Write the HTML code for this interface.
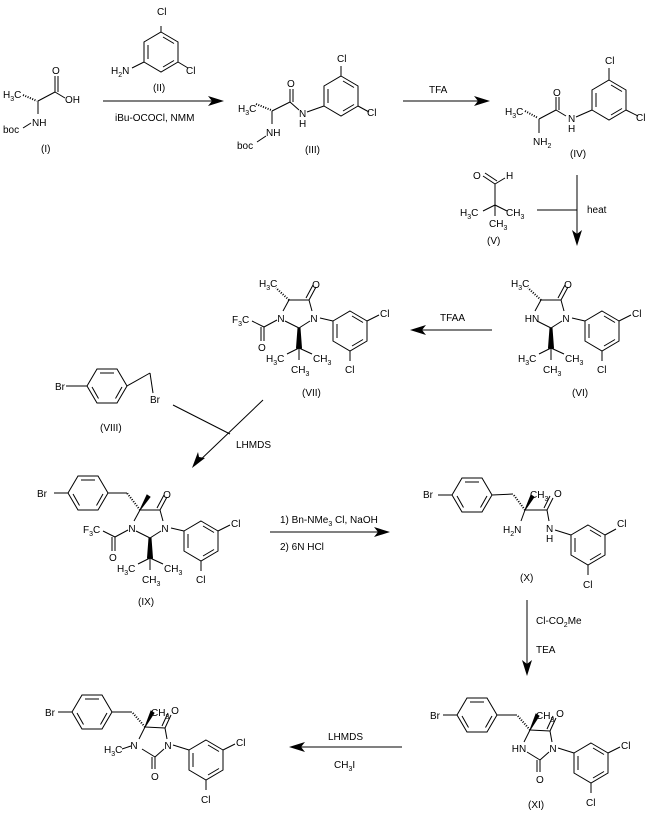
<!DOCTYPE html>
<html><head><meta charset="utf-8"><style>
html,body{margin:0;padding:0;background:#fff}
svg{display:block}
text{font-family:"Liberation Sans",Arial,sans-serif;font-size:10px;fill:#000}
</style></head><body>
<svg width="654" height="826" viewBox="0 0 654 826" xmlns="http://www.w3.org/2000/svg">
<defs>
<g id="hv" fill="none" stroke="#000" stroke-width="1">
<polygon points="0,-20 17,-10 17,10 0,20 -17,10 -17,-10"/>
<line x1="2" y1="-15" x2="13" y2="-8.5"/><line x1="13" y1="8.5" x2="2" y2="15"/><line x1="-13" y1="7" x2="-13" y2="-7"/>
</g>
<g id="hh" fill="none" stroke="#000" stroke-width="1">
<polygon points="-20,0 -10,-17 10,-17 20,0 10,17 -10,17"/>
<line x1="-7" y1="-13" x2="7" y2="-13"/><line x1="15" y1="1" x2="8.5" y2="12.5"/><line x1="-8.5" y1="12.5" x2="-15" y2="1"/>
</g>
<!-- imidazolidinone core in IX frame -->
<g id="core" stroke="#000" stroke-width="1" fill="none">
<line x1="140" y1="510" x2="160" y2="510"/>
<line x1="160" y1="510" x2="167" y2="497"/><line x1="157" y1="508" x2="164" y2="495"/>
<line x1="160" y1="510" x2="163" y2="521"/>
<line x1="161" y1="531" x2="150" y2="538"/>
<line x1="150" y1="538" x2="136" y2="531"/>
<line x1="134" y1="521" x2="140" y2="510"/>
<line x1="171" y1="528" x2="184" y2="531"/>
<polygon points="149,538 151,538 152.5,558 147.5,558" fill="#000"/>
<line x1="150" y1="558" x2="138" y2="564"/><line x1="150" y1="558" x2="163" y2="564"/><line x1="150" y1="558" x2="150" y2="570"/>
<use href="#hv" x="201" y="541"/>
<line x1="218" y1="531" x2="230" y2="525"/>
<line x1="201" y1="561" x2="201" y2="571"/>
</g>
<g id="coret">
<text x="165" y="532" text-anchor="middle">N</text>
<text x="167" y="498" text-anchor="middle">O</text>
<text x="117" y="572">H<tspan font-size="7" dy="3">3</tspan><tspan dy="-3">C</tspan></text>
<text x="164" y="572">CH<tspan font-size="7" dy="3">3</tspan></text>
<text x="142" y="583">CH<tspan font-size="7" dy="3">3</tspan></text>
<text x="231" y="527">Cl</text>
<text x="196" y="583">Cl</text>
</g>
<g id="acyl" stroke="#000" stroke-width="1" fill="none">
<line x1="128" y1="530" x2="115" y2="537"/>
<line x1="115" y1="537" x2="103" y2="531"/>
<line x1="115" y1="537" x2="115" y2="551"/><line x1="112" y1="537" x2="112" y2="551"/>
</g>
<g id="acylt">
<text x="132" y="532" text-anchor="middle">N</text>
<text x="83" y="533">F<tspan font-size="7" dy="3">3</tspan><tspan dy="-3">C</tspan></text>
<text x="109" y="561">O</text>
</g>
<!-- hydantoin in final frame -->
<g id="hyd" stroke="#000" stroke-width="1" fill="none">
<line x1="145" y1="727" x2="165" y2="728"/>
<line x1="165" y1="728" x2="171" y2="715"/><line x1="162" y1="726" x2="168" y2="713"/>
<line x1="165" y1="728" x2="167" y2="739"/>
<line x1="164" y1="749" x2="155" y2="757"/>
<line x1="155" y1="757" x2="142" y2="749"/>
<line x1="139" y1="739" x2="145" y2="727"/>
<line x1="155" y1="757" x2="155" y2="769"/><line x1="152" y1="757" x2="152" y2="769"/>
<line x1="173" y1="745" x2="189" y2="750"/>
<polygon points="145,727 151,711 154,713" fill="#000"/>
<line x1="145" y1="727" x2="132" y2="712" stroke-dasharray="1,1.5" stroke-width="2"/>
<line x1="132" y1="712" x2="112" y2="712"/>
<use href="#hh" x="92" y="712"/>
<line x1="58" y1="712" x2="72" y2="712"/>
<use href="#hv" x="206" y="760"/>
<line x1="223" y1="750" x2="235" y2="744"/>
<line x1="206" y1="780" x2="206" y2="790"/>
</g>
<g id="hydt">
<text x="168" y="749" text-anchor="middle">N</text>
<text x="175" y="714" text-anchor="middle">O</text>
<text x="151" y="780">O</text>
<text x="151" y="716">CH<tspan font-size="7" dy="3">3</tspan></text>
<text x="45" y="716">Br</text>
<text x="236" y="746">Cl</text>
<text x="201" y="803">Cl</text>
</g>
</defs>

<g stroke="#000" stroke-width="1" fill="none">
<!-- (I) -->
<line x1="23" y1="95" x2="37" y2="101" stroke-dasharray="1,1.5" stroke-width="2"/>
<line x1="38" y1="101" x2="55" y2="92"/>
<line x1="55" y1="92" x2="55" y2="76"/><line x1="58" y1="92" x2="58" y2="76"/>
<line x1="55" y1="92" x2="65" y2="98"/>
<line x1="38" y1="101" x2="38" y2="114"/>
<line x1="23" y1="128" x2="31" y2="123"/>
<!-- (II) -->
<use href="#hv" x="161" y="52"/>
<line x1="161" y1="32" x2="161" y2="26"/>
<line x1="178" y1="62" x2="188" y2="68"/>
<line x1="144" y1="62" x2="132" y2="68"/>
<!-- arrow 1 -->
<line x1="103" y1="101" x2="222" y2="101"/>
<!-- (III) -->
<use href="#hv" x="341" y="96"/>
<line x1="341" y1="76" x2="341" y2="66"/>
<line x1="358" y1="106" x2="369" y2="112"/>
<line x1="256" y1="104" x2="271" y2="110" stroke-dasharray="1,1.5" stroke-width="2"/>
<line x1="272" y1="111" x2="290" y2="102"/>
<line x1="290" y1="102" x2="290" y2="89"/><line x1="293" y1="102" x2="293" y2="89"/>
<line x1="290" y1="102" x2="299" y2="110"/>
<line x1="307" y1="112" x2="324" y2="106"/>
<line x1="272" y1="111" x2="272" y2="124"/>
<line x1="257" y1="142" x2="266" y2="136"/>
<!-- TFA arrow -->
<line x1="403" y1="101" x2="488" y2="101"/>
<!-- (IV) -->
<use href="#hv" x="609" y="100"/>
<line x1="609" y1="80" x2="609" y2="68"/>
<line x1="626" y1="110" x2="638" y2="116"/>
<line x1="525" y1="111" x2="538" y2="118" stroke-dasharray="1,1.5" stroke-width="2"/>
<line x1="539" y1="119" x2="556" y2="110"/>
<line x1="556" y1="110" x2="556" y2="97"/><line x1="559" y1="110" x2="559" y2="97"/>
<line x1="556" y1="110" x2="566" y2="116"/>
<line x1="576" y1="117" x2="592" y2="110"/>
<line x1="539" y1="119" x2="539" y2="133"/>
<!-- (V) -->
<line x1="483" y1="176" x2="495" y2="184"/><line x1="485" y1="173" x2="497" y2="181"/>
<line x1="495" y1="184" x2="505" y2="178"/>
<line x1="495" y1="184" x2="495" y2="205"/>
<line x1="495" y1="205" x2="483" y2="211"/><line x1="495" y1="205" x2="507" y2="211"/><line x1="495" y1="205" x2="495" y2="216"/>
<!-- heat arrow -->
<line x1="577" y1="175" x2="577" y2="243"/>
<line x1="537" y1="210" x2="577" y2="210"/>
<!-- TFAA arrow -->
<line x1="492" y1="330" x2="413" y2="330"/>
<!-- (VIII) -->
<use href="#hh" x="107" y="386"/>
<line x1="66" y1="386" x2="87" y2="386"/>
<line x1="127" y1="386" x2="150" y2="373"/>
<line x1="150" y1="373" x2="153" y2="393"/>
<!-- LHMDS diag arrow -->
<line x1="263" y1="400" x2="195" y2="465"/>
<line x1="173" y1="405" x2="230" y2="434"/>
<!-- (IX) extras -->
<polygon points="140,510 147,495 150,497" fill="#000"/>
<line x1="140" y1="510" x2="127" y2="493" stroke-dasharray="1,1.5" stroke-width="2"/>
<line x1="127" y1="493" x2="108" y2="493"/>
<use href="#hh" x="88" y="493"/>
<line x1="54" y1="493" x2="68" y2="493"/>
<!-- IX to X arrow -->
<line x1="270" y1="532" x2="388" y2="532"/>
<!-- (X) -->
<use href="#hh" x="472" y="495"/>
<line x1="438" y1="495" x2="452" y2="495"/>
<line x1="492" y1="495" x2="513" y2="494"/>
<line x1="525" y1="510" x2="513" y2="494" stroke-dasharray="1,1.5" stroke-width="2"/>
<polygon points="525,510 531,495 534,497" fill="#000"/>
<line x1="525" y1="510" x2="547" y2="510"/>
<line x1="547" y1="510" x2="553" y2="498"/><line x1="544" y1="508" x2="550" y2="496"/>
<line x1="547" y1="510" x2="549" y2="521"/>
<line x1="525" y1="510" x2="521" y2="521"/>
<line x1="555" y1="530" x2="571" y2="535"/>
<use href="#hv" x="588" y="545"/>
<line x1="605" y1="535" x2="616" y2="529"/>
<line x1="588" y1="565" x2="588" y2="575"/>
<!-- X to XI arrow -->
<line x1="527" y1="600" x2="527" y2="673"/>
<!-- final arrow -->
<line x1="402" y1="747" x2="292" y2="747"/>
<!-- final N-CH3 -->
<line x1="122" y1="749" x2="131" y2="746"/>
</g>
<!-- arrowheads -->
<g fill="#000">
<polygon points="224,101 208,96 212,101 208,106"/>
<polygon points="490,101 474,96 478,101 474,106"/>
<polygon points="577,246 572,230 577,234 582,230"/>
<polygon points="410,330 426,325 422,330 426,335"/>
<polygon points="192,468 198,452 199,457 205,458"/>
<polygon points="390,532 374,527 378,532 374,537"/>
<polygon points="527,676 522,660 527,664 532,660"/>
<polygon points="289,747 305,742 301,747 305,752"/>
</g>

<!-- structures from defs -->
<use href="#core"/><use href="#coret"/><use href="#acyl"/><use href="#acylt"/>
<g transform="translate(149,-210)">
<use href="#core"/><use href="#coret"/><use href="#acyl"/><use href="#acylt"/>
<line x1="140" y1="510" x2="127" y2="498" stroke="#000" stroke-dasharray="1,1.5" stroke-width="2"/>
<text x="110" y="497">H<tspan font-size="7" dy="3">3</tspan><tspan dy="-3">C</tspan></text>
</g>
<g transform="translate(401,-210)">
<use href="#core"/><use href="#coret"/>
<line x1="140" y1="510" x2="127" y2="498" stroke="#000" stroke-dasharray="1,1.5" stroke-width="2"/>
<text x="110" y="497">H<tspan font-size="7" dy="3">3</tspan><tspan dy="-3">C</tspan></text>
<text x="131" y="532" text-anchor="middle">HN</text>
</g>
<use href="#hyd"/><use href="#hydt"/>
<text x="134" y="749" text-anchor="middle">N</text>
<text x="104" y="753">H<tspan font-size="7" dy="3">3</tspan><tspan dy="-3">C</tspan></text>
<g transform="translate(385,3)">
<use href="#hyd"/><use href="#hydt"/>
<text x="134" y="749" text-anchor="middle">HN</text>
</g>

<!-- text labels -->
<text x="3" y="98">H<tspan font-size="7" dy="3">3</tspan><tspan dy="-3">C</tspan></text>
<text x="52" y="74">O</text>
<text x="65" y="103">OH</text>
<text x="32" y="126">NH</text>
<text x="3" y="133">boc</text>
<text x="41" y="152">(I)</text>
<text x="157" y="15">Cl</text>
<text x="186" y="74">Cl</text>
<text x="111" y="74">H<tspan font-size="7" dy="3">2</tspan><tspan dy="-3">N</tspan></text>
<text x="153" y="91">(II)</text>
<text x="115" y="121">iBu-OCOCl, NMM</text>
<text x="238" y="112">H<tspan font-size="7" dy="3">3</tspan><tspan dy="-3">C</tspan></text>
<text x="287" y="87">O</text>
<text x="299" y="117">N</text><text x="299" y="127">H</text>
<text x="266" y="136">NH</text>
<text x="237" y="149">boc</text>
<text x="305" y="153">(III)</text>
<text x="337" y="62">Cl</text>
<text x="367" y="116">Cl</text>
<text x="429" y="93">TFA</text>
<text x="505" y="115">H<tspan font-size="7" dy="3">3</tspan><tspan dy="-3">C</tspan></text>
<text x="553" y="96">O</text>
<text x="568" y="122">N</text><text x="568" y="132">H</text>
<text x="533" y="145">NH<tspan font-size="7" dy="3">2</tspan></text>
<text x="570" y="157">(IV)</text>
<text x="605" y="64">Cl</text>
<text x="636" y="121">Cl</text>
<text x="473" y="179">O</text>
<text x="506" y="179">H</text>
<text x="460" y="216">H<tspan font-size="7" dy="3">3</tspan><tspan dy="-3">C</tspan></text>
<text x="506" y="216">CH<tspan font-size="7" dy="3">3</tspan></text>
<text x="489" y="227">CH<tspan font-size="7" dy="3">3</tspan></text>
<text x="487" y="244">(V)</text>
<text x="587" y="213">heat</text>
<text x="572" y="396">(VI)</text>
<text x="440" y="321">TFAA</text>
<text x="302" y="396">(VII)</text>
<text x="55" y="390">Br</text>
<text x="150" y="403">Br</text>
<text x="100" y="431">(VIII)</text>
<text x="236" y="448">LHMDS</text>
<text x="37" y="497">Br</text>
<text x="138" y="605">(IX)</text>
<text x="280" y="523">1) Bn-NMe<tspan font-size="7" dy="3">3</tspan><tspan dy="-3"> Cl, NaOH</tspan></text>
<text x="280" y="550">2) 6N HCl</text>
<text x="423" y="498">Br</text>
<text x="530" y="498">CH<tspan font-size="7" dy="3">3</tspan></text>
<text x="554" y="497">O</text>
<text x="546" y="532">N</text><text x="546" y="542">H</text>
<text x="503" y="533">H<tspan font-size="7" dy="3">2</tspan><tspan dy="-3">N</tspan></text>
<text x="520" y="581">(X)</text>
<text x="617" y="527">Cl</text>
<text x="583" y="588">Cl</text>
<text x="536" y="624">Cl-CO<tspan font-size="7" dy="3">2</tspan><tspan dy="-3">Me</tspan></text>
<text x="536" y="653">TEA</text>
<text x="528" y="808">(XI)</text>
<text x="328" y="740">LHMDS</text>
<text x="334" y="768">CH<tspan font-size="7" dy="3">3</tspan><tspan dy="-3">I</tspan></text>
</svg>
</body></html>
